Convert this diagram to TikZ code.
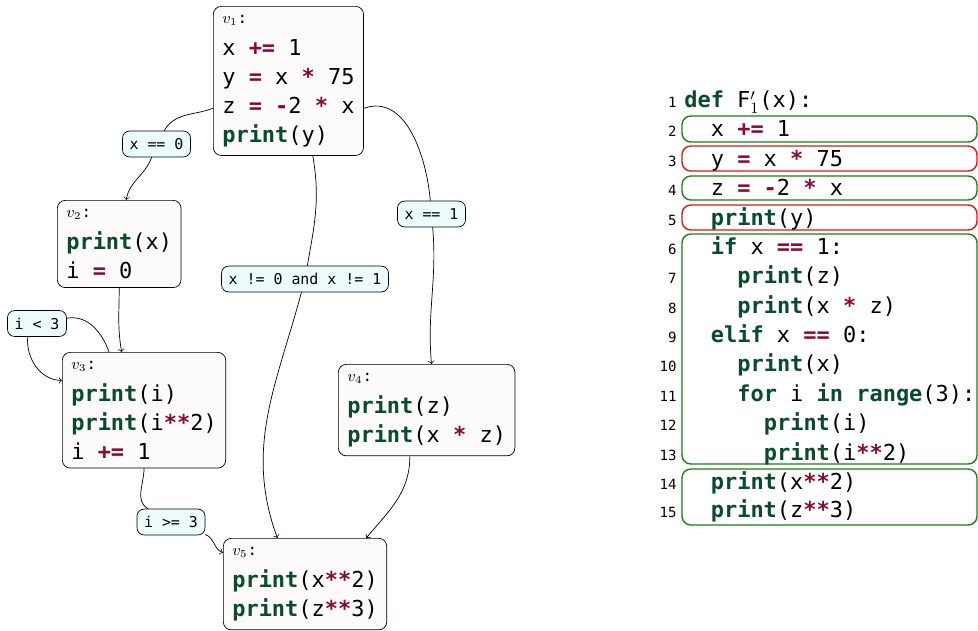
\documentclass[tikz,border=0pt]{standalone}
\usepackage{fontspec}
\newfontfamily\codefont{DejaVu Sans Mono}
\definecolor{kwgreen}{RGB}{8,76,44}
\definecolor{opred}{RGB}{140,8,50}
\definecolor{boxfill}{RGB}{252,251,250}
\definecolor{labfill}{RGB}{236,252,252}
\definecolor{keepgreen}{RGB}{24,128,24}
\definecolor{dropred}{RGB}{214,24,24}
\newcommand\kwd[1]{\textcolor{kwgreen}{\bfseries #1}}
\newcommand\opr[1]{\textcolor{opred}{\bfseries #1}}
\newcommand\vlab[1]{{\fontsize{9}{10}\selectfont$v_{#1}$:}}
\tikzset{
  block/.style={draw,rounded corners=4.5pt,fill=boxfill,anchor=north west,align=left,
    inner xsep=5.1pt,inner ysep=5pt,font=\codefont\fontsize{12.5}{16.4}\selectfont},
  cond/.style={draw,rounded corners=4pt,fill=labfill,inner xsep=4pt,inner ysep=0pt,
    minimum height=14.7pt,font=\codefont\fontsize{8.5}{10}\selectfont},
  codeline/.style={anchor=mid west,inner sep=0pt,font=\codefont\fontsize{12.5}{15}\selectfont},
  lnum/.style={anchor=mid east,inner sep=0pt,font=\codefont\fontsize{8}{9}\selectfont},
  keep/.style={draw=keepgreen,line width=0.8pt,rounded corners=5pt,fill=white},
  drop/.style={draw=dropred,line width=0.8pt,rounded corners=5pt,fill=white},
}
\begin{document}
\begin{tikzpicture}[x=0.02cm,y=-0.02cm]
\useasboundingbox (0,0) rectangle (978,630);
% control flow graph
\node[block] (v1) at (213,6) {\vlab{1}\\[2pt]x \opr{+=} 1\\y \opr{=} x \opr{*} 75\\z \opr{=} \opr{-}2 \opr{*} x\\\kwd{print}(y)};
\node[block] (v2) at (57,200) {\vlab{2}\\[2pt]\kwd{print}(x)\\i \opr{=} 0};
\node[block] (v3) at (62,352) {\vlab{3}\\[2pt]\kwd{print}(i)\\\kwd{print}(i\opr{**}2)\\i \opr{+=} 1};
\node[block] (v4) at (338,364) {\vlab{4}\\[2pt]\kwd{print}(z)\\\kwd{print}(x \opr{*} z)};
\node[block] (v5) at (223,538) {\vlab{5}\\[2pt]\kwd{print}(x\opr{**}2)\\\kwd{print}(z\opr{**}3)};
\node[cond] (c0) at (156.5,144) {x == 0};
\node[cond] (c1) at (431.5,214) {x == 1};
\node[cond] (c2) at (305,279) {x != 0 and x != 1};
\node[cond] (c3) at (37,323.5) {i < 3};
\node[cond] (c4) at (171,522) {i >= 3};
\draw (v1.200) to[out=200,in=60] (c0);
\draw[->] (c0) to[out=250,in=80] (v2.81);
\draw (v1.340) to[out=20,in=95] (c1);
\draw[->] (c1) to[out=-85,in=95] (v4.84);
\draw (v1.288) to[out=-80,in=80] (c2);
\draw[->] (c2) to[out=-105,in=110] (v5.121);
\draw[->] (v2.south) to[out=-90,in=100] (v3.111);
\draw (v3.121) to[out=110,in=10] (c3);
\draw[->] (c3.235) to[out=-95,in=180] (v3.160);
\draw (v3.south) to[out=-90,in=150] (c4);
\draw[->] (c4) to[out=-20,in=160] (v5.159);
\draw[->] (v4.250) to[out=-90,in=50] (v5.37);
% sliced listing
\draw[keep] (682,116) rectangle (977,142);
\draw[drop] (682,146) rectangle (977,171);
\draw[keep] (682,176) rectangle (977,200);
\draw[drop] (682,205) rectangle (977,230);
\draw[keep] (682,234) rectangle (977,464);
\draw[keep] (682,469) rectangle (977,525);
\foreach \n/\y/\ind/\txt in {
  1/104/0/{\kwd{def} F$'_1$(x):},
  2/133/1/{x \opr{+=} 1},
  3/163/1/{y \opr{=} x \opr{*} 75},
  4/192/1/{z \opr{=} \opr{-}2 \opr{*} x},
  5/222/1/{\kwd{print}(y)},
  6/251/1/{\kwd{if} x \opr{==} 1:},
  7/280/2/{\kwd{print}(z)},
  8/309.5/2/{\kwd{print}(x \opr{*} z)},
  9/339/1/{\kwd{elif} x \opr{==} 0:},
  10/368/2/{\kwd{print}(x)},
  11/398/2/{\kwd{for} i \kwd{in} \kwd{range}(3):},
  12/427/3/{\kwd{print}(i)},
  13/456.5/3/{\kwd{print}(i\opr{**}2)},
  14/486/1/{\kwd{print}(x\opr{**}2)},
  15/514/1/{\kwd{print}(z\opr{**}3)}}{
  \node[codeline] (ln\n) at (684+\ind*26.5,\y) {\txt};
  \node[lnum] (no\n) at (677,\y) {\n};
}
\end{tikzpicture}
\end{document}
